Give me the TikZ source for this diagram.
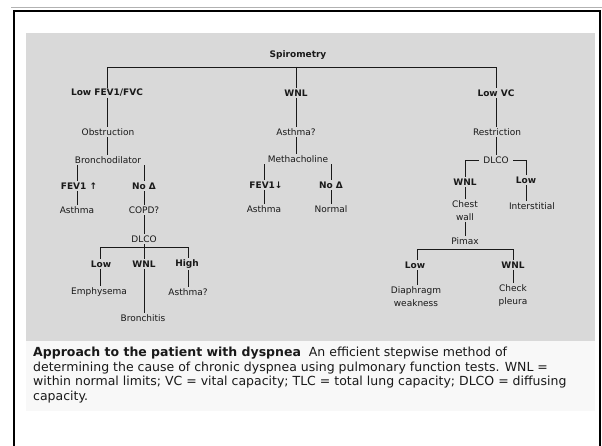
\documentclass[tikz,border=0pt]{standalone}
\usepackage{fontspec}
\setmainfont{DejaVu Sans}
\definecolor{bggray}{RGB}{217,217,217}
\definecolor{capbg}{RGB}{248,248,248}
\definecolor{ink}{RGB}{25,25,25}
\begin{document}
\begin{tikzpicture}[x=1pt,y=-1pt,
  lbl/.style={font=\fontsize{9}{12.5}\selectfont, inner sep=1.5pt, text=ink, align=center},
  blbl/.style={font=\fontsize{9}{11}\selectfont\bfseries, inner sep=1.5pt, text=ink},
  conn/.style={draw=ink, line width=0.9pt}]
\useasboundingbox (0,0) rectangle (602,446);
\fill[white] (0,0) rectangle (602,446);
% frame
\draw[black!30, line width=1pt] (11,8) -- (602,8);
\draw[black, line width=2.2pt] (14,448) -- (14,11) -- (600,11) -- (600,448);
% panels
\fill[bggray] (26,33) rectangle (595,341);
\fill[capbg] (26,341) rectangle (595,411);

% top level
\node[blbl] (spiro) at (298,55) {Spirometry};
\node[blbl] (lfev) at (107,93) {Low FEV1/FVC};
\node[blbl] (wnl) at (296,93) {WNL};
\node[blbl] (lvc) at (496,93) {Low VC};
\coordinate (tl) at (107,67);
\coordinate (tm) at (296,67);
\coordinate (tr) at (496,67);
\draw[conn] (lfev.north) -- (tl) -- (tr) -- (lvc.north);
\draw[conn] (tm) -- (wnl.north);

% left branch
\node[lbl] (obs) at (108,132) {Obstruction};
\node[lbl] (bron) at (108,160) {Bronchodilator};
\node[blbl] (fevup) at (79,186) {FEV1 ↑};
\node[blbl] (nod1) at (144,186) {No Δ};
\node[lbl] (asth1) at (77,210) {Asthma};
\node[lbl] (copd) at (144,210) {COPD?};
\node[lbl] (dlco1) at (144,239) {DLCO};
\node[blbl] (low1) at (101,264) {Low};
\node[blbl] (wnl1) at (144,264) {WNL};
\node[blbl] (high1) at (187,264) {High};
\node[lbl] (emph) at (99,292) {Emphysema};
\node[lbl] (asth2) at (188,292) {Asthma?};
\node[lbl] (bronch) at (143,318) {Bronchitis};
\coordinate (bl) at (100,247);
\coordinate (br) at (188,247);

\draw[conn] (lfev.south -| tl) -- (obs.north -| tl);
\draw[conn] (obs.south -| tl) -- (bron.north -| tl);
\draw[conn] (bron.south -| asth1) -- (fevup.north -| asth1);
\draw[conn] (bron.south -| nod1) -- (nod1.north);
\draw[conn] (fevup.south -| asth1) -- (asth1.north);
\draw[conn] (nod1.south) -- (copd.north);
\draw[conn] (copd.south) -- (dlco1.north);
\draw[conn] (dlco1.south) -- (wnl1.north);
\draw[conn] (low1.north -| bl) -- (bl) -- (br) -- (high1.north -| br);
\draw[conn] (low1.south -| bl) -- (emph.north -| bl);
\draw[conn] (wnl1.south) -- (bronch.north -| wnl1);
\draw[conn] (high1.south -| br) -- (asth2.north -| br);

% middle branch
\node[lbl] (ast) at (296,132) {Asthma?};
\node[lbl] (meth) at (298,159) {Methacholine};
\node[blbl] (fevdn) at (266,185) {FEV1↓};
\node[blbl] (nod2) at (331,185) {No Δ};
\node[lbl] (asth3) at (264,209) {Asthma};
\node[lbl] (normal) at (331,209) {Normal};
\draw[conn] (wnl.south) -- (ast.north -| wnl);
\draw[conn] (ast.south) -- (meth.north -| ast);
\draw[conn] (meth.south -| asth3) -- (fevdn.north -| asth3);
\draw[conn] (meth.south -| nod2) -- (nod2.north);
\draw[conn] (fevdn.south -| asth3) -- (asth3.north);
\draw[conn] (nod2.south) -- (normal.north);

% right branch
\node[lbl] (restr) at (497,132) {Restriction};
\node[lbl] (dlco2) at (496,160) {DLCO};
\node[blbl] (wnl2) at (465,182) {WNL};
\node[blbl] (low2) at (526,180) {Low};
\node[lbl] (chest) at (465,210.5) {Chest\\wall};
\node[lbl] (interst) at (532,206) {Interstitial};
\node[lbl] (pimax) at (465,241) {Pimax};
\node[blbl] (low3) at (415,265) {Low};
\node[blbl] (wnl3) at (513,265) {WNL};
\node[lbl] (diaph) at (416,296.5) {Diaphragm\\weakness};
\node[lbl] (check) at (513,295.5) {Check\\pleura};
\coordinate (rl) at (417,249);
\coordinate (rr) at (513,249);

\draw[conn] (lvc.south) -- (restr.north -| lvc);
\draw[conn] (restr.south -| lvc) -- (dlco2.north -| lvc);
\draw[conn] ([xshift=-3pt]dlco2.west) -- (dlco2.west -| wnl2) -- (wnl2.north);
\draw[conn] ([xshift=3pt]dlco2.east) -- (dlco2.east -| low2) -- (low2.north);
\draw[conn] (wnl2.south) -- (chest.north);
\draw[conn] (low2.south) -- (interst.north -| low2);
\draw[conn] (chest.south) -- (pimax.north);
\draw[conn] (low3.north -| rl) -- (rl) -- (rr) -- (wnl3.north);
\draw[conn] (low3.south -| rl) -- (diaph.north -| rl);
\draw[conn] (wnl3.south) -- (check.north);

% caption
\node[anchor=north west, align=left, inner sep=0pt, text=ink,
      font=\fontsize{12.5}{14.5}\selectfont] (cap) at (33,347)
  {\textbf{Approach to the patient with dyspnea}\ \ An efficient stepwise method of\\
   determining the cause of chronic dyspnea using pulmonary function tests. WNL =\\
   within normal limits; VC = vital capacity; TLC = total lung capacity; DLCO = diffusing\\
   capacity.};
\end{tikzpicture}
\end{document}
